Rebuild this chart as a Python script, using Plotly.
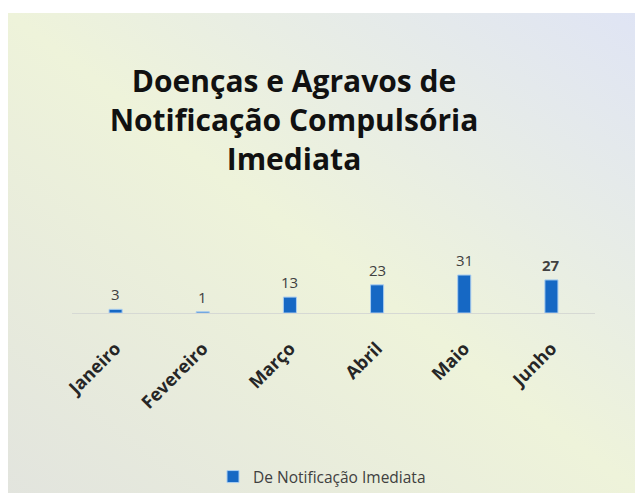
import base64
import plotly.graph_objects as go

months = ["Janeiro", "Fevereiro", "Março", "Abril", "Maio", "Junho"]
values = [3, 1, 13, 23, 31, 27]
series_name = "De Notificação Imediata"
title_text = "Doenças e Agravos de<br>Notificação Compulsória<br>Imediata"

W, H = 643, 493
L, R, T, B = 64, 56, 170, 188
pw, ph = W - L - R, H - T - B
px_per_unit = 1.225
ymax = ph / px_per_unit

# background panel (figure pixel coordinates)
bg_x0, bg_y0, bg_x1, bg_y1 = 0, 5, 643, 493
bw, bh = bg_x1 - bg_x0, bg_y1 - bg_y0

svg = (
    f'<svg xmlns="http://www.w3.org/2000/svg" width="{bw}" height="{bh}" viewBox="0 0 {bw} {bh}" preserveAspectRatio="none">'
    '<defs><linearGradient id="g" x1="0" y1="1" x2="1" y2="0">'
    '<stop offset="0" stop-color="#e2e4de"/>'
    '<stop offset="0.5" stop-color="#eef3da"/>'
    '<stop offset="1" stop-color="#dfe4f5"/>'
    '</linearGradient></defs>'
    f'<rect width="{bw}" height="{bh}" fill="url(#g)"/>'
    f'<line x1="628.5" y1="0" x2="628.5" y2="{bh}" stroke="#d8dbe0" stroke-width="1"/></svg>'
)
uri = "data:image/svg+xml;base64," + base64.b64encode(svg.encode()).decode()

font_family = "Open Sans, Noto Sans, sans-serif"

fig = go.Figure()
fig.add_trace(go.Bar(
    x=months, y=values, name=series_name,
    marker=dict(color="#1668c4", line=dict(color="#a9cdf0", width=1)),
    width=0.15, showlegend=True,
))

for m, v in zip(months, values):
    txt = f"<b>{v}</b>" if m == "Junho" else str(v)
    fig.add_annotation(x=m, y=v, text=txt, showarrow=False, yanchor="bottom",
                       yshift=3, font=dict(family=font_family, size=15, color="#404040"))

fig.add_layout_image(dict(
    source=uri, xref="paper", yref="paper",
    x=(bg_x0 - L) / pw, y=(T + ph - bg_y0) / ph,
    sizex=bw / pw, sizey=bh / ph,
    xanchor="left", yanchor="top", sizing="stretch", layer="below",
))

fig.update_layout(
    width=W, height=H,
    margin=dict(l=L, r=R, t=T, b=B, autoexpand=False),
    paper_bgcolor="white", plot_bgcolor="rgba(0,0,0,0)",
    title=dict(text=title_text, x=286 / W, xanchor="center", y=1 - 84 / H, yanchor="top",
               font=dict(family=font_family, size=30, color="#111111", weight="bold")),
    xaxis=dict(showline=True, linecolor="#d6d9d4", linewidth=1, ticks="", tickangle=-45,
               ticklabelstandoff=17,
               tickfont=dict(family=font_family, size=18, color="#262626", weight="bold"),
               showgrid=False, automargin=False),
    yaxis=dict(range=[0, ymax], visible=False, showgrid=False),
    legend=dict(orientation="h", x=(314 - L) / pw, xanchor="center", y=(T + ph - 469) / ph,
                yanchor="middle",
                font=dict(family=font_family, size=15.5, color="#404040"),
                bgcolor="rgba(0,0,0,0)"),
)

fig.write_html("out.html")
